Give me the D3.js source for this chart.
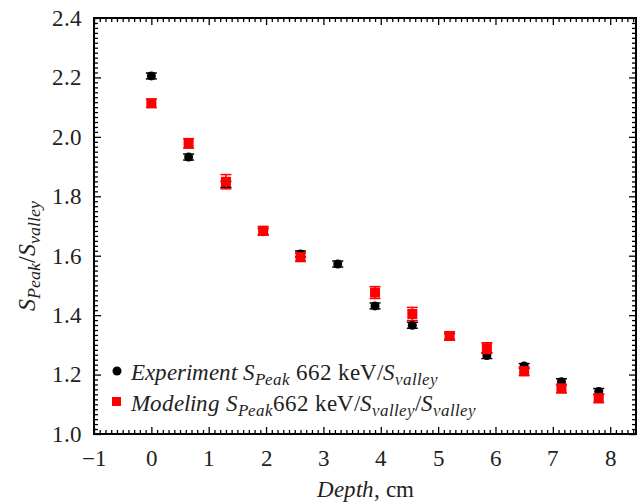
<!DOCTYPE html>
<html>
<head>
<meta charset="utf-8">
<script src="https://cdn.jsdelivr.net/npm/d3@7"></script>
<style>
  @font-face { font-family: "ChartSerif"; font-style: normal; src: local("Liberation Serif"), local("LiberationSerif"); }
  @font-face { font-family: "ChartSerif"; font-style: italic; src: local("Liberation Serif Italic"), local("LiberationSerif-Italic"); }
</style>
</head>
<body style="margin:0">
<svg id="s" width="644" height="504"></svg>
<script>
// Depth positions (cm)
const depthExp = [0, 0.65, 1.3, 1.95, 2.6, 3.25, 3.9, 4.55, 5.2, 5.85, 6.5, 7.15, 7.8];
const ratioExp = [2.205, 1.932, 1.840, 1.681, 1.606, 1.572, 1.431, 1.366, 1.328, 1.264, 1.229, 1.176, 1.143];
const errExp   = [0.010, 0.010, 0.010, 0.010, 0.010, 0.010, 0.010, 0.010, 0.010, 0.010, 0.008, 0.010, 0.010];

const depthMod = [0, 0.65, 1.3, 1.95, 2.6, 3.9, 4.55, 5.2, 5.85, 6.5, 7.15, 7.8];
const ratioMod = [2.113, 1.978, 1.849, 1.684, 1.595, 1.476, 1.404, 1.330, 1.289, 1.211, 1.153, 1.120];
const errMod   = [0.014, 0.016, 0.024, 0.014, 0.014, 0.020, 0.022, 0.014, 0.018, 0.014, 0.014, 0.014];

const xTicks = [-1, 0, 1, 2, 3, 4, 5, 6, 7, 8];
const yTicks = [1.0, 1.2, 1.4, 1.6, 1.8, 2.0, 2.2, 2.4];

const svg = d3.select("#s");
const plotL = 94, plotR = 636, plotT = 18, plotB = 434;

const x = d3.scaleLinear().domain([-1, 8.45]).range([plotL, plotR]);
const y = d3.scaleLinear().domain([1.0, 2.4]).range([plotB, plotT]);

const fmtX = d3.format("d");
const fmtY = d3.format(".1f");

// minor tick values
const xMinor = d3.range(-1, 8.45 + 1e-9, 0.1).filter(v => Math.abs(v - Math.round(v)) > 1e-6);
const yMinor = d3.range(0, 85).map(i => 1.0 + i * (0.2 / 12)).filter(v => v <= 2.4 + 1e-9 && Math.abs(v * 5 - Math.round(v * 5)) > 1e-6);

function serif(sel, size) {
  return sel.style("font-family", '"ChartSerif", "Liberation Serif", serif').style("font-size", size + "px");
}

function styleAxis(g) {
  g.attr("font-family", null).attr("font-size", null);
  g.select(".domain").remove();
  g.selectAll(".tick line").attr("stroke", "#000").attr("stroke-width", 1.3);
  serif(g.selectAll(".tick text"), 23).attr("fill", "#222");
}

// bottom axis with labels
svg.append("g").attr("transform", `translate(0,${plotB})`)
  .call(d3.axisBottom(x).tickValues(xTicks).tickSize(-7).tickPadding(12).tickFormat(fmtX))
  .call(styleAxis)
  .call(g => g.selectAll(".tick text").attr("dy", "0.85em"));
svg.append("g").attr("transform", `translate(0,${plotB})`)
  .call(d3.axisBottom(x).tickValues(xMinor).tickSize(-4).tickFormat(""))
  .call(styleAxis);
// top axis
svg.append("g").attr("transform", `translate(0,${plotT})`)
  .call(d3.axisTop(x).tickValues(xTicks).tickSize(-7).tickFormat(""))
  .call(styleAxis);
svg.append("g").attr("transform", `translate(0,${plotT})`)
  .call(d3.axisTop(x).tickValues(xMinor).tickSize(-4).tickFormat(""))
  .call(styleAxis);
// left axis with labels
svg.append("g").attr("transform", `translate(${plotL},0)`)
  .call(d3.axisLeft(y).tickValues(yTicks).tickSize(-7).tickPadding(12).tickFormat(fmtY))
  .call(styleAxis);
svg.append("g").attr("transform", `translate(${plotL},0)`)
  .call(d3.axisLeft(y).tickValues(yMinor).tickSize(-4).tickFormat(""))
  .call(styleAxis);
// right axis
svg.append("g").attr("transform", `translate(${plotR},0)`)
  .call(d3.axisRight(y).tickValues(yTicks).tickSize(-7).tickFormat(""))
  .call(styleAxis);
svg.append("g").attr("transform", `translate(${plotR},0)`)
  .call(d3.axisRight(y).tickValues(yMinor).tickSize(-4).tickFormat(""))
  .call(styleAxis);

// frame
svg.append("rect")
  .attr("x", plotL).attr("y", plotT)
  .attr("width", plotR - plotL).attr("height", plotB - plotT)
  .attr("fill", "none").attr("stroke", "#000").attr("stroke-width", 2);

// error bars
function errorBars(xs, ys, es, color) {
  const g = svg.append("g").attr("stroke", color).attr("stroke-width", 1.5);
  xs.forEach((d, i) => {
    const cx = x(d);
    const y0 = y(ys[i] - es[i]), y1 = y(ys[i] + es[i]);
    g.append("line").attr("x1", cx).attr("x2", cx).attr("y1", y0).attr("y2", y1);
    g.append("line").attr("x1", cx - 5.5).attr("x2", cx + 5.5).attr("y1", y0).attr("y2", y0);
    g.append("line").attr("x1", cx - 5.5).attr("x2", cx + 5.5).attr("y1", y1).attr("y2", y1);
  });
}

errorBars(depthExp, ratioExp, errExp, "#000");
svg.append("g").selectAll("circle")
  .data(depthExp.map((d, i) => [d, ratioExp[i]]))
  .join("circle")
  .attr("cx", d => x(d[0])).attr("cy", d => y(d[1]))
  .attr("r", 4.5).attr("fill", "#000");

errorBars(depthMod, ratioMod, errMod, "#ff0000");
svg.append("g").selectAll("rect")
  .data(depthMod.map((d, i) => [d, ratioMod[i]]))
  .join("rect")
  .attr("x", d => x(d[0]) - 5).attr("y", d => y(d[1]) - 5)
  .attr("width", 10).attr("height", 10).attr("fill", "#ff0000");

// legend markers
svg.append("circle").attr("cx", 117).attr("cy", 371).attr("r", 4.5).attr("fill", "#000");
svg.append("rect").attr("x", 112).attr("y", 397).attr("width", 9).attr("height", 9).attr("fill", "#ff0000");

function richText(parent, xPos, yPos, parts, size) {
  const t = serif(parent.append("text"), size).attr("x", xPos).attr("y", yPos).attr("fill", "#222");
  let shift = 0;
  parts.forEach(p => {
    const ts = t.append("tspan").text(p.t);
    if (p.i) ts.style("font-style", "italic");
    const target = p.sub ? 5 : 0;
    if (target !== shift) { ts.attr("dy", target - shift); shift = target; }
    if (p.sub) ts.style("font-size", Math.round(size * 0.75) + "px");
  });
  return t;
}

richText(svg, 131, 380, [
  { t: "Experiment S", i: true },
  { t: "Peak", i: true, sub: true },
  { t: " 662 keV/" },
  { t: "S", i: true },
  { t: "valley", i: true, sub: true }
], 23);

richText(svg, 131, 411, [
  { t: "Modeling S", i: true },
  { t: "Peak", i: true, sub: true },
  { t: "662 keV/" },
  { t: "S", i: true },
  { t: "valley", i: true, sub: true },
  { t: "/" },
  { t: "S", i: true },
  { t: "valley", i: true, sub: true }
], 23);

// axis titles
const xt = serif(svg.append("text"), 23).attr("x", (plotL + plotR) / 2).attr("y", 497)
  .attr("fill", "#222").attr("text-anchor", "middle");
xt.append("tspan").text("Depth").style("font-style", "italic");
xt.append("tspan").text(", cm");

const yt = richText(svg, 0, 0, [
  { t: "S", i: true },
  { t: "Peak", i: true, sub: true },
  { t: "/" },
  { t: "S", i: true },
  { t: "valley", i: true, sub: true }
], 24);
yt.attr("text-anchor", "middle")
  .attr("transform", `translate(35,${(plotT + plotB) / 2 + 30}) rotate(-90)`);
</script>
</body>
</html>
